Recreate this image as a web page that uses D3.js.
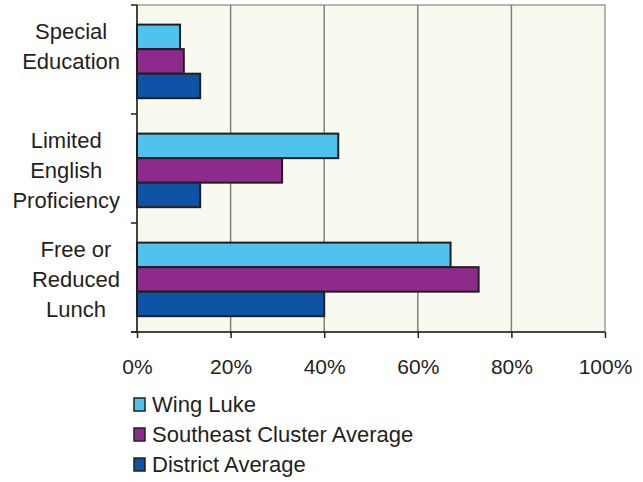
<!DOCTYPE html>
<html><head><meta charset="utf-8">
<script src="https://cdn.jsdelivr.net/npm/d3@7"></script>
<style>body{margin:0;background:#fff}svg{display:block}text{font-family:"Liberation Sans",Arial,sans-serif;fill:#231f20}</style>
</head><body>
<svg id="c" width="643" height="482"></svg>
<script>
const categories = ["Special Education", "Limited English Proficiency", "Free or Reduced Lunch"];
const categoryLines = [["Special", "Education"], ["Limited", "English", "Proficiency"], ["Free or", "Reduced", "Lunch"]];
const series = ["Wing Luke", "Southeast Cluster Average", "District Average"];
const wingLuke = [9.2, 43, 67];
const southeast = [10, 31, 73];
const district = [13.5, 13.5, 40];
const xTicks = [0, 20, 40, 60, 80, 100];
const colors = ["#4fc3ee", "#8e2a8b", "#0e52a5"];
const values = [wingLuke, southeast, district];

const svg = d3.select("#c");
const L = 137, R = 605, T = 5, B = 332;
const x = d3.scaleLinear().domain([0, 100]).range([L, R]);
const y = d3.scaleBand().domain(categories).range([T, B]);
const bw = y.bandwidth();
const ys = d3.scaleBand().domain(series).range([bw * 0.18, bw * 0.855]);

svg.append("rect").attr("x", L).attr("y", T).attr("width", R - L).attr("height", B - T)
  .attr("fill", "#f9faef").attr("stroke", "#9d9d9f").attr("stroke-width", 1.5);

svg.append("g").selectAll("line").data(xTicks.slice(1, -1)).join("line")
  .attr("x1", d => x(d)).attr("x2", d => x(d)).attr("y1", T).attr("y2", B)
  .attr("stroke", "#7f7f7f").attr("stroke-width", 1.5);

// bars
categories.forEach((c, ci) => {
  series.forEach((s, si) => {
    svg.append("rect")
      .attr("x", x(0)).attr("y", y(c) + ys(s))
      .attr("width", x(values[si][ci]) - x(0)).attr("height", ys.bandwidth())
      .attr("fill", colors[si]).attr("stroke", "#231f20").attr("stroke-width", 2);
  });
});

// axes
const xAxis = d3.axisBottom(x).tickValues(xTicks).tickSize(6).tickFormat(d => d + "%").tickPadding(21);
const gx = svg.append("g").attr("transform", `translate(0,${B})`).call(xAxis);
gx.select(".domain").attr("stroke", "#231f20").attr("stroke-width", 1.5).attr("d", `M${L-6},0H${R}`);
gx.selectAll(".tick line").attr("stroke", "#231f20").attr("stroke-width", 1.5);
gx.selectAll(".tick text").style("font-size", "21px").attr("fill", "#231f20").style("font-family", '"Liberation Sans",Arial,sans-serif');

const bounds = [T].concat(categories.map(c => y(c) + bw));
svg.append("line").attr("x1", L).attr("x2", L).attr("y1", T).attr("y2", B).attr("stroke", "#231f20").attr("stroke-width", 1.5);
svg.append("g").selectAll("line").data(bounds).join("line")
  .attr("x1", L - 6).attr("x2", L).attr("y1", d => d).attr("y2", d => d)
  .attr("stroke", "#231f20").attr("stroke-width", 1.5);

// category labels
categories.forEach((c, ci) => {
  const g = svg.append("g");
  const lines = categoryLines[ci];
  const cy = y(c) + bw / 2;
  const texts = lines.map((ln, i) => g.append("text").attr("y", cy - 21 + i * 30).attr("text-anchor", "middle")
    .style("font-size", "22px").text(ln));
  const maxW = d3.max(texts, t => t.node().getComputedTextLength());
  texts.forEach(t => t.attr("x", 120 - maxW / 2));
});

// legend
const lg = svg.append("g");
series.forEach((s, i) => {
  const yy = 412 + i * 30;
  lg.append("rect").attr("x", 134).attr("y", yy - 14).attr("width", 11).attr("height", 13)
    .attr("fill", colors[i]).attr("stroke", "#231f20").attr("stroke-width", 1.5);
  lg.append("text").attr("x", 152).attr("y", yy).style("font-size", "22px").text(s);
});
</script>
</body></html>
